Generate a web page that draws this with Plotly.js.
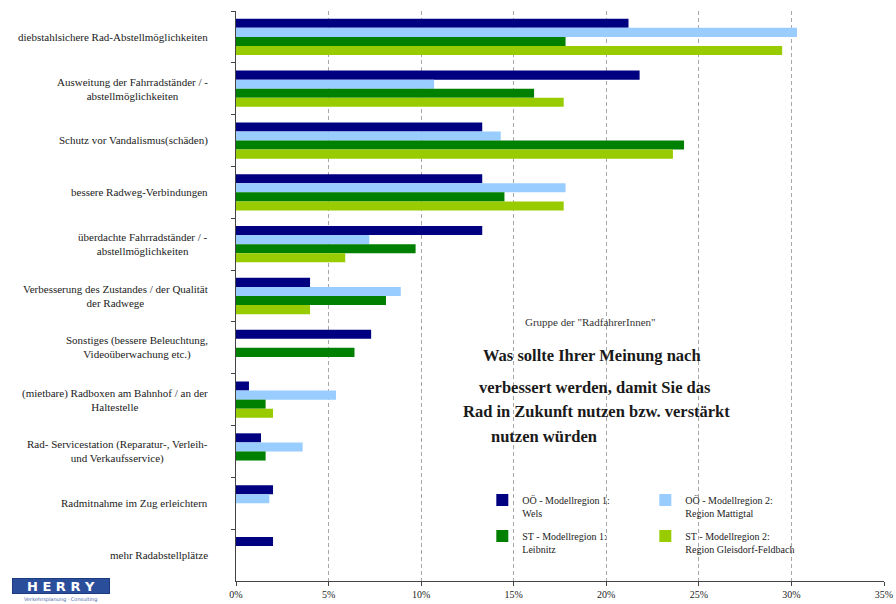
<!DOCTYPE html>
<html>
<head>
<meta charset="utf-8">
<script src="https://cdn.plot.ly/plotly-3.0.1.min.js"></script>
<style>html,body{margin:0;padding:0;background:#fff;}#chart{width:896px;height:604px;}</style>
</head>
<body>
<div id="chart"></div>
<script>
// Categories (top to bottom)
const categories = [
  "diebstahlsichere Rad-Abstellmöglichkeiten",
  "Ausweitung der Fahrradständer / -<br>abstellmöglichkeiten",
  "Schutz vor Vandalismus(schäden)",
  "bessere Radweg-Verbindungen",
  "überdachte Fahrradständer / -<br>abstellmöglichkeiten",
  "Verbesserung des Zustandes / der Qualität<br>der Radwege",
  "Sonstiges (bessere Beleuchtung,<br>Videoüberwachung etc.)",
  "(mietbare) Radboxen am Bahnhof / an der<br>Haltestelle",
  "Rad- Servicestation (Reparatur-, Verleih-<br>und Verkaufsservice)",
  "Radmitnahme im Zug erleichtern",
  "mehr Radabstellplätze"
];

// Series names
const seriesNames = [
  "OÖ - Modellregion 1:<br>Wels",
  "OÖ - Modellregion 2:<br>Region Mattigtal",
  "ST - Modellregion 1:<br>Leibnitz",
  "ST - Modellregion 2:<br>Region Gleisdorf-Feldbach"
];

// Values in percent
const ooWels      = [21.2, 21.8, 13.3, 13.3, 13.3, 4.0, 7.3, 0.7, 1.35, 2.0, 2.0];
const ooMattigtal = [30.3, 10.7, 14.3, 17.8, 7.2, 8.9, 0, 5.4, 3.6, 1.8, 0];
const stLeibnitz  = [17.8, 16.1, 24.2, 14.5, 9.7, 8.1, 6.4, 1.6, 1.6, 0, 0];
const stGleisdorf = [29.5, 17.7, 23.6, 17.7, 5.9, 4.0, 0, 2.0, 0, 0, 0];

const xTicks = [0, 5, 10, 15, 20, 25, 30, 35];
const xTickLabels = ["0%", "5%", "10%", "15%", "20%", "25%", "30%", "35%"];

const colors = ["#000080", "#99ccff", "#008000", "#99cc00"];
const serif = "Liberation Serif";

const seriesValues = [ooWels, ooMattigtal, stLeibnitz, stGleisdorf];
const legendIds = ["legend", "legend", "legend2", "legend2"];

const traces = seriesValues.map((vals, i) => ({
  type: "bar",
  orientation: "h",
  name: seriesNames[i],
  x: vals,
  y: categories,
  marker: { color: colors[i] },
  legend: legendIds[i],
  hoverinfo: "x+y"
}));

const annotations = categories.map(c => ({
  x: 0, xref: "paper", xshift: -26, xanchor: "right",
  y: c, yref: "y", yanchor: "middle",
  text: c, align: "center", showarrow: false,
  font: { family: serif, size: 11, color: "#222" }
}));

const PL = 235.5, PR = 884, PT = 11, PB = 581;
function px2x(px) { return (px - PL) / (PR - PL); }
function px2y(py) { return (PB - py) / (PB - PT); }

const boldFont = { family: serif, size: 16.5, color: "#1a1a1a" };
annotations.push(
  { x: px2x(590), y: px2y(322), xref: "paper", yref: "paper", xanchor: "center", yanchor: "middle",
    text: "Gruppe der \"RadfahrerInnen\"", showarrow: false,
    font: { family: serif, size: 11, color: "#333" } },
  { x: px2x(592), y: px2y(355), xref: "paper", yref: "paper", xanchor: "center", yanchor: "middle",
    text: "<b>Was sollte Ihrer Meinung nach</b>", showarrow: false, font: boldFont },
  { x: px2x(595), y: px2y(387), xref: "paper", yref: "paper", xanchor: "center", yanchor: "middle",
    text: "<b>verbessert werden, damit Sie das</b>", showarrow: false, font: boldFont },
  { x: px2x(596), y: px2y(411), xref: "paper", yref: "paper", xanchor: "center", yanchor: "middle",
    text: "<b>Rad in Zukunft nutzen bzw. verstärkt</b>", showarrow: false, font: boldFont },
  { x: px2x(489), y: px2y(436), xref: "paper", yref: "paper", xanchor: "left", yanchor: "middle",
    text: "<b>nutzen würden</b>", showarrow: false, font: boldFont },
  // HERRY logo
  { x: px2x(60), y: px2y(585.5), xref: "paper", yref: "paper", xanchor: "center", yanchor: "middle",
    text: "<b>H E R R Y</b>", showarrow: false, bgcolor: "#2b4e9b", bordercolor: "#1d3c80", borderwidth: 1,
    width: 96, height: 14, borderpad: 0,
    font: { family: "DejaVu Sans", size: 13, color: "#ffffff" } },
  { x: px2x(60), y: px2y(599.5), xref: "paper", yref: "paper", xanchor: "center", yanchor: "middle",
    text: "Verkehrsplanung · Consulting", showarrow: false,
    font: { family: "DejaVu Sans", size: 5, color: "#4a6aa8" } }
);

const layout = {
  width: 896, height: 604,
  margin: { l: PL, r: 896 - PR, t: PT, b: 604 - PB, pad: 0 },
  paper_bgcolor: "#ffffff", plot_bgcolor: "#ffffff",
  font: { family: serif },
  barmode: "group", bargap: 0.3, bargroupgap: 0,
  showlegend: true,
  xaxis: {
    range: [0, 35.0001], tickmode: "array", tickvals: xTicks, ticktext: xTickLabels,
    ticklabeloverflow: "allow",
    showgrid: true, gridcolor: "#a8a8a8", griddash: "4px,3px", gridwidth: 1,
    zeroline: false, showline: true, linecolor: "#444", linewidth: 1,
    ticks: "outside", ticklen: 4, tickcolor: "#444",
    tickfont: { family: serif, size: 10, color: "#222" }, fixedrange: true
  },
  yaxis: {
    type: "category", autorange: "reversed", categoryorder: "array", categoryarray: categories,
    showticklabels: false, ticks: "outside", tickson: "boundaries", ticklen: 4, tickcolor: "#444",
    showgrid: false, zeroline: false, showline: true, linecolor: "#444", linewidth: 1, fixedrange: true
  },
  legend: {
    orientation: "h", x: px2x(482), y: px2y(487), xanchor: "left", yanchor: "top",
    entrywidth: 118, valign: "top", bgcolor: "rgba(0,0,0,0)", tracegroupgap: 0,
    font: { family: serif, size: 10, color: "#222" }
  },
  legend2: {
    orientation: "h", x: px2x(482), y: px2y(523), xanchor: "left", yanchor: "top",
    entrywidth: 118, valign: "top", bgcolor: "rgba(0,0,0,0)", tracegroupgap: 0,
    font: { family: serif, size: 10, color: "#222" }
  },
  annotations: annotations
};

Plotly.newPlot("chart", traces, layout, { displayModeBar: false, staticPlot: true });
</script>
</body>
</html>
